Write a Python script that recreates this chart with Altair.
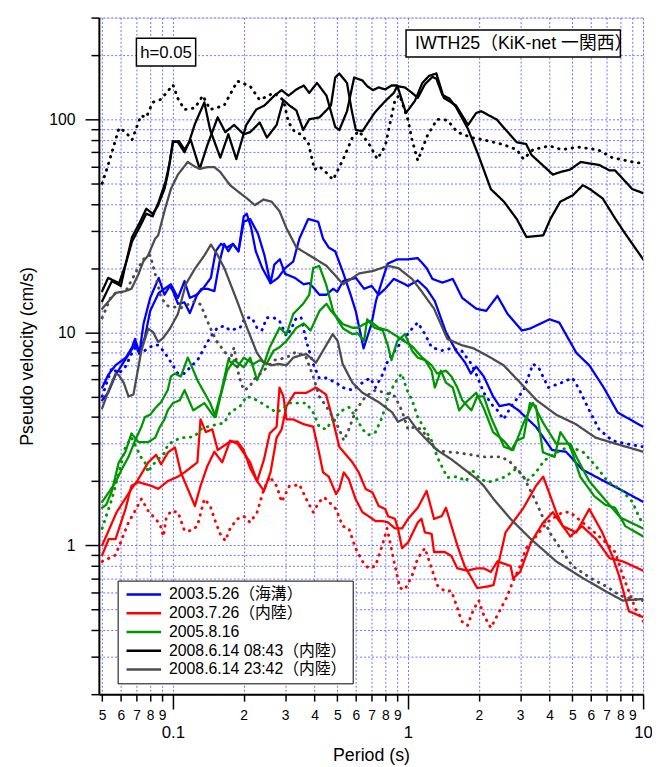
import altair as alt
import pandas as pd

FONT = "Liberation Sans, Arial, Noto Sans CJK JP, sans-serif"

EVENTS = ["2003.5.26（海溝）", "2003.7.26（内陸）", "2005.8.16",
          "2008.6.14 08:43（内陸）", "2008.6.14 23:42（内陸）"]
COLORS = ["#0000ff", "#ff0000", "#009600", "#000000", "#4d4d4d"]

# ---------------- 2003.5.26 (blue) ----------------
BL_A_T = [0.05,0.053,0.057,0.063,0.067,0.069,0.072,0.075,0.08,0.087,0.092,0.097,0.1,0.105,0.112,0.118,0.126,0.132,0.14,0.15,
          0.158,0.165,0.172,0.18,0.19,0.2,0.206,0.215,0.225,0.24,0.26,0.28,0.3,0.325,0.345,0.376,0.415,0.435,0.46,0.49,
          0.53,0.57,0.6,0.647,0.7,0.73,0.78,0.82,0.9,1.0,1.1,1.2,1.27,1.4,1.55,1.7,1.95,2.15,2.4,2.65,
          3.05,3.3,4.0,4.4,5.2,5.9,6.8,7.8,10.0]
BL_A_V = [5.5,6.3,7,7.6,8.5,9.3,8,11,14.5,18,15,16.5,15.6,13.6,13.8,12.3,14.8,16,16,15.6,
          21.5,26,24,26,24,35,36,31,24,20,17,18,20,21.5,27.5,34,33,27.5,25,24,
          19,15,12.5,8.4,11,14,17.8,21,22,22,22.3,20,17.8,17.1,17.8,14.5,12.9,12.6,14.8,12.2,
          10.2,10.4,11.5,11.1,8,7,5.5,4.2,3.6]
BL_B_T = [0.05,0.053,0.057,0.061,0.065,0.069,0.072,0.076,0.08,0.087,0.092,0.098,0.105,0.112,0.118,0.126,0.134,0.145,0.152,0.16,
          0.17,0.18,0.19,0.2,0.213,0.23,0.245,0.26,0.27,0.285,0.3,0.33,0.36,0.38,0.4,0.42,0.45,0.48,0.5,0.53,
          0.6,0.65,0.7,0.75,0.8,0.87,0.95,1.0,1.1,1.2,1.3,1.45,1.6,1.75,1.85,1.95,2.1,2.3,2.45,2.7,
          2.95,3.5,4.1,4.7,5.5,6.6,7.9,10.0]
BL_B_V = [4.8,5.2,6.3,7.1,7.9,8.8,7.9,9.5,12.6,15.3,16,16.8,14.5,17.4,14.5,15,16,18,24,26,
          25,26,24,33,34,29,23,17,20.8,22,18.8,18,16.8,17,16,15,15,16,15.5,17.4,
          18,16,16.5,15,16,17.8,17,16.5,17.5,16,14,10,8.2,7.2,6.4,6.9,6.2,5,4.5,4.6,
          4.3,3.6,2.8,2.75,2.27,2.04,1.84,1.6]
BL_U_T = [0.05,0.0549,0.0588,0.0628,0.0666,0.0693,0.073,0.0785,0.0824,0.0865,0.0908,0.0953,0.105,0.112,0.119,
          0.1273,0.1363,0.1444,0.1546,0.1654,0.175,0.193,0.2027,0.2168,0.2276,0.2389,0.2508,0.268,0.284,0.304,
          0.32,0.335,0.351,0.369,0.395,0.419,0.448,0.494,0.527,0.58,0.64,0.69,0.727,0.777,0.823,
          0.88,0.943,1.04,1.1,1.18,1.26,1.39,1.53,1.69,1.86,1.97,2.1,2.3,2.4,2.55,
          2.75,3.1,3.4,3.6,3.95,4.5,5.0,5.3,5.9,6.5,7.4,8.4,10.0]
BL_U_V = [5.0,6.8,6.4,6.9,7.9,8.5,8.0,8.4,8.7,8.7,8.2,7.6,6.4,6.4,6.9,
          7.4,8.5,9.5,10.5,10.7,10.2,10.5,11.7,11.7,10.5,10.2,11.7,11.7,11.3,9.6,
          10.5,11.7,11.7,9.1,7.1,6.1,6.1,5.8,5.5,5.35,5.8,6.1,5.5,6.3,7.4,
          8.2,9.1,10.4,11.1,9.8,8.5,8.2,8.4,8.2,7.1,6.2,5.2,4.5,4.3,3.9,
          4.5,5.35,7.1,6.8,5.5,5.8,6.1,5.5,4.3,3.5,3.1,3.0,2.9]

# ---------------- 2003.7.26 (red) ----------------
RD_A_T = [0.05,0.0533,0.057,0.0628,0.0666,0.0713,0.081,0.0865,0.095,0.105,0.112,0.127,0.131,0.138,0.147,
          0.155,0.175,0.188,0.2,0.213,0.228,0.244,0.258,0.276,0.284,0.295,0.304,0.325,0.36,0.395,
          0.419,0.435,0.46,0.494,0.51,0.533,0.56,0.598,0.64,0.679,0.727,0.777,0.822,0.88,0.943,
          1.0,1.1,1.2,1.29,1.39,1.45,1.62,1.74,1.97,2.17,2.31,2.6,3.1,3.5,3.76,
          4.27,4.55,5.2,5.9,6.7,7.4,7.9,8.7,10.0]
RD_A_V = [0.9,1.07,1.07,1.48,1.9,1.98,1.9,1.84,2.0,2.1,2.2,2.45,3.9,3.4,3.5,
          2.8,3.07,3.07,2.8,2.3,2.0,2.53,3.35,3.6,5.5,5.0,3.9,3.9,3.7,3.6,
          2.7,2.2,2.1,1.74,1.84,2.2,2.04,1.65,1.43,1.37,1.3,1.3,1.28,1.2,1.2,
          1.33,1.5,1.8,1.33,1.37,1.5,1.0,0.8,0.63,0.64,0.65,1.15,1.5,1.9,2.1,
          1.43,1.23,1.15,1.48,1.15,0.89,0.72,0.49,0.46]
RD_B_T = [0.05,0.0576,0.0666,0.07,0.0785,0.0848,0.089,0.0953,0.102,0.108,0.124,0.131,0.14,0.15,0.162,
          0.175,0.188,0.213,0.228,0.244,0.26,0.276,0.29,0.304,0.33,0.37,0.406,0.448,0.478,0.51,
          0.58,0.617,0.66,0.706,0.75,0.8,0.822,0.88,0.906,0.943,1.0,1.1,1.14,1.18,1.26,
          1.29,1.43,1.53,1.62,1.79,1.97,2.1,2.25,2.4,2.73,2.8,3.0,3.33,3.76,4.13,
          4.9,5.5,6.3,7.2,8.2,10.0]
RD_B_V = [1.0,1.43,1.84,1.98,2.45,2.66,2.4,2.73,2.88,2.2,1.53,1.9,2.35,2.75,2.45,
          3.1,3.0,2.45,2.0,1.8,2.2,3.2,3.5,4.5,5.2,5.2,5.5,5.1,3.9,2.9,
          2.45,2.2,1.84,1.77,1.53,1.48,1.37,1.33,1.2,0.97,1.03,1.28,1.33,1.15,1.13,
          0.93,0.93,0.89,0.78,0.76,0.78,0.78,0.75,0.84,0.8,0.7,0.75,1.03,1.28,1.43,
          1.1,1.23,1.07,0.87,0.84,0.76]
RD_U_T = [0.05,0.057,0.0647,0.069,0.0734,0.0785,0.088,0.091,0.0935,0.098,0.105,0.112,0.119,0.127,0.136,
          0.144,0.152,0.159,0.167,0.175,0.188,0.2,0.213,0.228,0.244,0.258,0.276,0.29,0.313,0.325,
          0.345,0.369,0.395,0.419,0.44,0.494,0.527,0.56,0.598,0.64,0.679,0.727,0.777,0.815,0.88,
          0.924,0.97,1.04,1.1,1.18,1.33,1.43,1.53,1.62,1.69,1.79,1.9,2.0,2.1,2.25,
          2.63,2.8,3.0,3.18,3.5,3.9,4.27,4.55,4.89,5.93,6.7,7.6,8.2,9.3,10.0]
RD_U_V = [0.84,0.9,1.28,1.45,1.65,1.45,1.26,1.1,1.33,1.45,1.43,1.17,1.17,1.23,1.65,
          1.53,1.28,1.13,1.05,1.2,1.33,1.37,1.28,1.43,1.84,2.1,1.9,1.6,1.9,1.9,
          1.93,1.65,1.43,1.6,1.68,1.48,1.23,1.2,0.97,0.84,0.78,0.8,1.0,1.2,0.8,
          0.63,0.62,0.72,0.87,0.97,0.65,0.61,0.61,0.51,0.44,0.42,0.5,0.55,0.47,0.41,
          0.57,0.68,0.8,0.97,1.1,1.28,1.37,1.43,1.43,1.2,1.07,0.93,0.72,0.5,0.44]

# ---------------- 2005.8.16 (green) ----------------
GN_A_T = [0.05,0.0533,0.057,0.0605,0.0647,0.069,0.0734,0.076,0.08,0.084,0.089,0.095,0.098,0.102,0.108,
          0.1156,0.119,0.127,0.136,0.144,0.152,0.159,0.17,0.182,0.2,0.213,0.228,0.244,0.258,0.284,
          0.304,0.325,0.358,0.38,0.395,0.419,0.448,0.48,0.5,0.53,0.58,0.61,0.65,0.67,0.72,
          0.78,0.82,0.85,0.9,0.97,1.04,1.1,1.18,1.26,1.3,1.38,1.45,1.55,1.65,1.75,
          1.95,2.1,2.3,2.55,2.75,2.9,3.1,3.3,3.5,3.75,4.2,4.45,4.9,5.4,6.2,6.9,7.6,8.4,10.0]
GN_A_V = [1.6,1.77,1.98,2.27,2.6,3.1,3.6,4.0,4.1,4.4,4.7,5.35,6.2,6.4,6.2,
          7.6,7.1,5.96,5.2,4.65,4.0,4.95,6.6,7.4,6.85,7.6,5.96,7.1,8.5,10.5,
          9.8,12.2,13.6,15,20,20.5,16.8,12.6,11.5,10.4,9.8,9.9,9.1,11.5,10.5,
          10.2,8.7,7.4,9.1,9.8,8.2,7.6,7.4,6.6,5.5,6.6,5.8,5.5,4.3,4.65,
          5.2,4.4,3.4,3.1,2.8,3.1,3.2,4.65,4.5,2.73,2.6,3.4,2.9,2.1,1.7,1.55,1.5,1.23,1.1]
GN_B_T = [0.05,0.052,0.055,0.0588,0.0628,0.0666,0.0713,0.0785,0.084,0.088,0.092,0.095,0.1,0.107,0.112,
          0.122,0.136,0.15,0.16,0.172,0.188,0.2,0.22,0.235,0.25,0.268,0.284,0.304,0.335,0.36,
          0.385,0.42,0.45,0.47,0.5,0.53,0.58,0.61,0.69,0.75,0.82,0.92,1.04,1.15,1.26,
          1.33,1.45,1.53,1.62,1.7,1.86,1.97,2.1,2.25,2.56,2.8,3.1,3.4,3.76,4.27,
          4.9,5.2,5.9,7.0,8.0,10.0]
GN_B_V = [1.5,1.55,1.8,2.45,2.75,3.35,3.05,3.05,3.2,3.6,3.9,4.3,4.65,4.8,5.35,
          4.3,4.65,4.0,5.2,7.4,6.85,7.6,7.1,7.4,7.1,8.2,8.5,9.1,10.5,11,
          10.2,12.6,13.6,12.6,11.7,10.9,10.5,10.5,11.3,10.5,10.2,9.4,8.6,7.6,7,
          6.4,6.6,6.2,5.5,4.8,4.3,5.0,5.0,4.0,2.9,2.8,3.75,4.65,3.75,3.0,
          3.0,2.6,2.0,1.6,1.35,1.2]
GN_U_T = [0.05,0.052,0.0545,0.057,0.0628,0.0666,0.073,0.076,0.0785,0.081,0.0865,0.0926,0.095,0.102,0.108,
          0.116,0.124,0.131,0.14,0.155,0.165,0.175,0.193,0.206,0.228,0.25,0.276,0.295,0.313,0.369,
          0.395,0.419,0.448,0.479,0.527,0.56,0.6,0.64,0.68,0.727,0.777,0.823,0.88,0.94,0.99,
          1.04,1.1,1.18,1.26,1.33,1.47,1.62,1.77,1.86,2.0,2.16,2.3,2.6,2.9,3.2,
          3.5,3.8,4.3,4.8,5.3,5.6,6.3,7.1,8.0,9.0,9.5,10.0]
GN_U_V = [1.2,1.37,1.6,1.9,2.9,3.2,2.6,2.45,2.2,2.35,2.53,2.73,2.97,3.1,3.2,
          3.2,3.25,3.5,3.6,3.7,3.75,4.2,4.5,5.0,4.8,4.5,4.2,4.4,4.65,4.65,
          4.2,3.6,3.5,3.9,4.3,4.45,4.0,3.5,3.3,3.4,4.0,5.0,5.8,6.4,5.35,
          4.8,4.0,3.5,3.1,2.6,2.08,2.1,2.0,2.27,2.08,1.98,2.0,2.1,2.3,2.0,
          2.2,2.5,2.73,2.9,2.8,2.72,2.35,1.98,1.84,1.6,1.4,1.25]

# ---------------- 2008.6.14 08:43 (black) ----------------
BK_A_T = [0.05,0.055,0.06,0.063,0.067,0.072,0.077,0.082,0.087,0.093,0.097,0.1,0.106,0.112,0.119,
          0.13,0.14,0.155,0.167,0.182,0.2,0.213,0.234,0.251,0.276,0.295,0.313,0.335,0.358,0.38,
          0.42,0.47,0.49,0.51,0.55,0.575,0.6,0.64,0.72,0.79,0.87,0.9,0.97,1.04,1.1,
          1.18,1.27,1.32,1.4,1.5,1.6,1.8,2.0,2.25,2.56,2.9,3.19,3.76,4.03,4.44,
          5.03,5.54,5.93,6.73,7.63,8.4,10.0]
BK_A_V = [14,17.4,16.5,21,26.7,31,36,35,41,51,63,78,79,72,80,
          58.5,75.5,102,87,94,85,87,96.5,82,94,123,116,110,89,100,
          102,116,157,164,148,111,89,88,107,120,133,143,141,133,126,
          146,158,155,130,125,114,90,67,47,41,34,28,28.5,34,41,
          44,49,47,42.5,34,29,22]
BK_B_T = [0.05,0.053,0.059,0.063,0.067,0.072,0.077,0.082,0.086,0.092,0.095,0.1,0.105,0.112,0.117,
          0.124,0.136,0.144,0.159,0.172,0.186,0.205,0.226,0.245,0.27,0.29,0.31,0.335,0.36,0.38,
          0.41,0.45,0.49,0.51,0.55,0.59,0.64,0.67,0.71,0.75,0.8,0.85,0.9,0.98,1.07,
          1.15,1.23,1.32,1.42,1.6,1.8,1.95,2.05,2.39,2.73,2.9,3.18,3.35,4.13,4.45,
          4.89,5.43,5.92,6.5,7.2,7.6,9.0,10.0]
BK_B_V = [15.6,18,17,21,28,32.5,38,36,39,47,55,79,78,70,78,
          95,120,89,66,85,65,94,111,116,129,137,129,138,144,133,
          148,129,92,89,109,157,152,143,137,141,138,144,144,107,122,
          148,160,164,126,116,94,107,109,99.5,84,78,76.5,68,55,56.5,
          58,63,62,61,57.5,57.5,47,45]
BK_U_T = [0.05,0.053,0.059,0.063,0.067,0.073,0.077,0.082,0.089,0.1,0.105,0.112,0.124,0.134,0.144,
          0.165,0.188,0.213,0.234,0.268,0.295,0.31,0.33,0.35,0.376,0.4,0.42,0.45,0.48,0.53,
          0.58,0.617,0.676,0.74,0.8,0.88,0.92,1.0,1.04,1.1,1.21,1.33,1.47,1.62,1.86,
          2.1,2.55,2.9,3.1,3.4,4.0,4.5,5.3,6.4,7.4,9.0,10.0]
BK_U_V = [50,61,91,87,80,104,102,120,124,145,125,111,113,129,111,
          116,151,143,123,133,123,97,87,85,78,58,60,56,52,65,
          82,88,78,65,75,123,130,99,80,64,84,100,99,87,82,
          80,76,72,65,72,75,72,74,72,66,63,62]

# ---------------- 2008.6.14 23:42 (gray) ----------------
GR_A_T = [0.05,0.0533,0.057,0.0628,0.0666,0.0713,0.0748,0.0785,0.084,0.0865,0.0926,0.098,0.105,0.1156,0.1237,
          0.1298,0.1403,0.1501,0.159,0.175,0.193,0.2065,0.223,0.243,0.263,0.284,0.304,0.325,0.335,0.38,
          0.45,0.53,0.62,0.71,0.82,0.91,1.04,1.14,1.29,1.47,1.69,1.9,2.25,2.55,3.0,
          3.52,4.27,5.18,6.28,7.63,10.0]
GR_A_V = [12.9,14,15.3,15.6,16,18.7,21.5,23,27.5,28.5,38,47,55,63,60,
          58.5,59.6,59.6,56.5,49,45,42.5,39.5,42,41,37,30.8,26.7,25,23,
          20.5,16.8,18.9,19.4,20.5,20,17.8,15.6,12.9,9.3,8.7,8.4,7.6,7,5.8,
          4.8,4.1,3.7,3.2,3.0,2.75]
GR_B_T = [0.05,0.0533,0.057,0.0588,0.0617,0.0647,0.0679,0.0734,0.0785,0.0824,0.0865,0.0908,0.0971,0.105,0.1134,
          0.1237,0.1363,0.145,0.155,0.1654,0.1875,0.2065,0.2276,0.2436,0.2631,0.2814,0.304,0.325,0.35,0.369,
          0.406,0.478,0.502,0.527,0.58,0.64,0.75,0.857,0.906,1.0,1.09,1.21,1.33,1.53,1.74,
          1.97,2.1,2.31,2.73,3.33,4.27,5.56,6.9,8.2,10.0]
GR_B_V = [4.4,5.35,6.4,6.3,5.8,5.0,5.1,8.2,10.4,10,9,9.4,10.4,12.2,16.8,
          19.8,23,25.8,23,20,14,10.5,8,7.2,7,7.1,7,7.6,7.8,7.9,
          7.2,9.8,9.1,7.1,5.8,5.2,4.7,4.2,3.8,4.0,3.5,3.1,2.8,2.53,2.27,
          2.04,1.9,1.65,1.33,1.07,0.84,0.70,0.61,0.55,0.56]
GR_U_T = [0.05,0.055,0.063,0.071,0.076,0.08,0.084,0.089,0.095,0.108,0.124,0.131,0.14,0.147,0.155,
          0.165,0.175,0.182,0.191,0.2,0.211,0.221,0.25,0.27,0.304,0.335,0.369,0.395,0.419,0.448,
          0.479,0.51,0.533,0.56,0.6,0.66,0.727,0.8,0.88,0.94,1.0,1.07,1.14,1.21,1.33,
          1.43,1.62,1.86,2.1,2.5,2.73,3.1,3.5,4.0,4.5,5.0,6.0,7.0,8.0,9.0,10.0]
GR_U_V = [11.7,15,15.6,20,22.5,23,18.8,14.5,13.3,13,14,13.5,11.3,10,8.9,
          8.2,7.4,8.5,6.2,5.35,5.5,6,6.8,7.4,7.6,8.1,7.6,6.2,5,4.5,
          4,3.5,3.1,3.5,4.3,5,5.35,5.2,5,4.3,3.5,3.6,3.5,3.2,2.8,
          2.75,2.72,2.66,2.6,2.6,2.45,2.1,1.6,1.15,0.95,0.8,0.7,0.64,0.58,0.56,0.55]

SERIES = [
    (0, "A", "solid", BL_A_T, BL_A_V), (0, "B", "solid", BL_B_T, BL_B_V), (0, "U", "dotted", BL_U_T, BL_U_V),
    (1, "A", "solid", RD_A_T, RD_A_V), (1, "B", "solid", RD_B_T, RD_B_V), (1, "U", "dotted", RD_U_T, RD_U_V),
    (2, "A", "solid", GN_A_T, GN_A_V), (2, "B", "solid", GN_B_T, GN_B_V), (2, "U", "dotted", GN_U_T, GN_U_V),
    (3, "A", "solid", BK_A_T, BK_A_V), (3, "B", "solid", BK_B_T, BK_B_V), (3, "U", "dotted", BK_U_T, BK_U_V),
    (4, "A", "solid", GR_A_T, GR_A_V), (4, "B", "solid", GR_B_T, GR_B_V), (4, "U", "dotted", GR_U_T, GR_U_V),
]

rows = []
for ev, comp, style, ts, vs in SERIES:
    assert len(ts) == len(vs), (ev, comp, len(ts), len(vs))
    for i, (t, v) in enumerate(zip(ts, vs)):
        rows.append({"event": EVENTS[ev], "series": f"{ev}{comp}", "style": style,
                     "period": t, "pv": v, "order": i})
df = pd.DataFrame(rows)

X_TICKS = [0.05, 0.06, 0.07, 0.08, 0.09, 0.1, 0.2, 0.3, 0.4, 0.5, 0.6, 0.7, 0.8, 0.9,
           1, 2, 3, 4, 5, 6, 7, 8, 9, 10]
Y_TICKS = [0.2, 0.3, 0.4, 0.5, 0.6, 0.7, 0.8, 0.9, 1, 2, 3, 4, 5, 6, 7, 8, 9,
           10, 20, 30, 40, 50, 60, 70, 80, 90, 100, 200, 300]
MAJ_X = "datum.value == 0.1 || datum.value == 1 || datum.value == 10"
MAJ_Y = "datum.value == 1 || datum.value == 10 || datum.value == 100"
GRID = "#7070ff"

x_axis = alt.Axis(
    values=X_TICKS, title="Period (s)", grid=True, gridColor=GRID, gridDash=[2, 2], gridWidth=1,
    domainColor="black", domainWidth=2, tickColor="black", tickWidth=1.5,
    tickSize={"condition": {"test": MAJ_X, "value": 15}, "value": 7},
    labelPadding={"condition": {"test": MAJ_X, "value": 16}, "value": 8},
    labelFontSize={"condition": {"test": MAJ_X, "value": 17}, "value": 14},
    labelExpr=f"({MAJ_X}) ? format(datum.value, '~g') : format(datum.value / pow(10, floor(log(datum.value) / LN10 + 1e-9)), '.0f')",
    labelFlush=False, labelOverlap=False, labelColor="black", labelFont=FONT,
    titleFont=FONT, titleFontSize=18, titleFontWeight="normal", titleColor="black", titlePadding=6,
)
y_axis = alt.Axis(
    values=Y_TICKS, title="Pseudo velocity (cm/s)", grid=True, gridColor=GRID, gridDash=[2, 2], gridWidth=1,
    domainColor="black", domainWidth=2, tickColor="black", tickWidth=1.5,
    tickSize={"condition": {"test": MAJ_Y, "value": 14}, "value": 8},
    labelPadding=10, labelFontSize=16,
    labelExpr=f"({MAJ_Y}) ? format(datum.value, '~g') : ''",
    labelFlush=False, labelOverlap=False, labelColor="black", labelFont=FONT,
    titleFont=FONT, titleFontSize=18, titleFontWeight="normal", titleColor="black", titlePadding=12,
)

lines = alt.Chart(df).mark_line(strokeCap="round", strokeJoin="round", clip=True).encode(
    x=alt.X("period:Q", scale=alt.Scale(type="log", domain=[0.0484, 10], nice=False), axis=x_axis),
    y=alt.Y("pv:Q", scale=alt.Scale(type="log", domain=[0.2, 300], nice=False), axis=y_axis),
    color=alt.Color("event:N", scale=alt.Scale(domain=EVENTS, range=COLORS),
                    legend=alt.Legend(title=None, orient="none", legendX=19, legendY=570,
                                      symbolType="M-1,0L6,0", symbolSize=100, symbolStrokeWidth=2.5,
                                      labelFontSize=16, labelFont=FONT, labelColor="black",
                                      labelOffset=30, padding=6, rowPadding=3, labelLimit=400,
                                      strokeColor="black", fillColor="white", direction="vertical")),
    strokeDash=alt.StrokeDash("style:N", scale=alt.Scale(domain=["solid", "dotted"], range=[[1, 0], [0.5, 6.5]]), legend=None),
    strokeWidth=alt.StrokeWidth("style:N", scale=alt.Scale(domain=["solid", "dotted"], range=[2.3, 2.9]), legend=None),
    detail="series:N",
    order="order:Q",
)

lab1 = pd.DataFrame({"t": ["h=0.05"]})
lab2 = pd.DataFrame({"t": ["IWTH25（KiK-net 一関西）"]})
box1 = alt.Chart(lab1).mark_rect(fill="white", stroke="black", strokeWidth=1.5).encode(
    x=alt.value(38), x2=alt.value(98), y=alt.value(21), y2=alt.value(49))
txt1 = alt.Chart(lab1).mark_text(font=FONT, fontSize=17, color="black", align="center", baseline="middle").encode(
    x=alt.value(68), y=alt.value(35.5), text="t:N")
box2 = alt.Chart(lab2).mark_rect(fill="white", stroke="black", strokeWidth=1.5).encode(
    x=alt.value(311), x2=alt.value(528), y=alt.value(12.5), y2=alt.value(40))
txt2 = alt.Chart(lab2).mark_text(font=FONT, fontSize=18, color="black", align="center", baseline="middle").encode(
    x=alt.value(430), y=alt.value(27), text="t:N")

chart = alt.layer(lines, box1, txt1, box2, txt2).properties(
    width=551, height=685,
    autosize=alt.AutoSizeParams(type="none"),
    padding={"left": 92, "top": 5, "right": 9, "bottom": 69},
).configure_view(stroke=None).configure_legend(strokeWidth=1.5).configure(font=FONT)

chart.save("out.html", embed_options={"renderer": "svg", "actions": False})
